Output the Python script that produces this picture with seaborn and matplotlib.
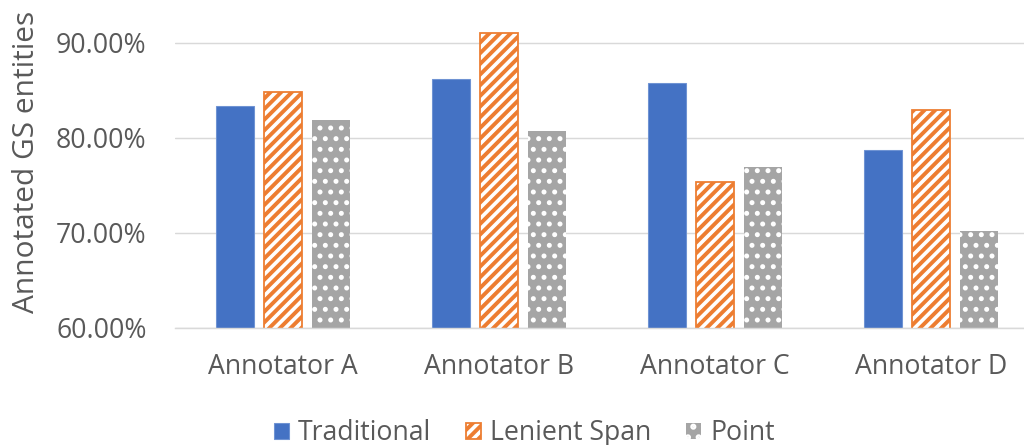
import matplotlib
matplotlib.use("Agg")
import matplotlib.pyplot as plt
import seaborn as sns
import pandas as pd
from matplotlib.ticker import PercentFormatter, FixedLocator
from matplotlib.patches import Patch

categories = ["Annotator A", "Annotator B", "Annotator C", "Annotator D"]
methods = ["Traditional", "Lenient Span", "Point"]
traditional = [0.833, 0.862, 0.858, 0.787]
lenient_span = [0.848, 0.910, 0.754, 0.829]
point = [0.819, 0.807, 0.769, 0.702]
y_ticks = [0.60, 0.70, 0.80, 0.90]

colors = {"Traditional": "#4472C4", "Lenient Span": "#ED7D31", "Point": "#A5A5A5"}
text_color = "#595959"
grid_color = "#D9D9D9"

rows = []
for m, vals in zip(methods, [traditional, lenient_span, point]):
    for c, v in zip(categories, vals):
        rows.append({"Annotator": c, "Method": m, "Value": v})
df = pd.DataFrame(rows)

sns.set_theme(style="white")
plt.rcParams["font.family"] = ["Open Sans", "DejaVu Sans"]
plt.rcParams["hatch.linewidth"] = 2.2

DPI = 128
fig = plt.figure(figsize=(1024 / DPI, 445 / DPI), dpi=DPI)
ax = fig.add_axes([175 / 1024, 117 / 445, 849 / 1024, 308 / 445])

sns.barplot(data=df, x="Annotator", y="Value", hue="Method", order=categories,
            hue_order=methods, palette=colors, width=0.667, gap=0.21,
            saturation=1, ax=ax, errorbar=None, legend=False)


def style(p, m):
    if m == "Traditional":
        p.set_facecolor(colors[m])
        p.set_edgecolor("#6F93D3")
        p.set_linewidth(0.6)
    elif m == "Lenient Span":
        p.set_facecolor("white")
        p.set_edgecolor(colors[m])
        p.set_hatch("////")
        p.set_linewidth(1.0)
        if hasattr(p, "set_hatch_linewidth"):
            p.set_hatch_linewidth(2.2)
    else:
        p.set_facecolor(colors[m])
        p.set_edgecolor("white")
        p.set_hatch("..")
        p.set_linewidth(0)
        if hasattr(p, "set_hatch_linewidth"):
            p.set_hatch_linewidth(1.6)


for cont, m in zip(ax.containers, methods):
    for bar in cont:
        style(bar, m)

ax.set_ylim(0.60, 0.9239)
ax.set_xlim(-0.5, 3.43)
ax.yaxis.set_major_locator(FixedLocator(y_ticks))
ax.yaxis.set_major_formatter(PercentFormatter(xmax=1, decimals=2))
ax.grid(axis="y", color=grid_color, linewidth=0.8)
ax.set_axisbelow(True)
for s in ["top", "right", "left"]:
    ax.spines[s].set_visible(False)
ax.spines["bottom"].set_color(grid_color)
ax.spines["bottom"].set_linewidth(0.8)
ax.tick_params(axis="both", length=0, labelsize=15, colors=text_color)
ax.tick_params(axis="y", pad=16)
ax.tick_params(axis="x", pad=14)
ax.set_xlabel("")
ax.set_ylabel("Annotated GS entities", fontsize=16.8, color=text_color)
ax.yaxis.set_label_coords(-0.158, 0.54)

handles = []
for m in methods:
    h = Patch(label=m)
    style(h, m)
    handles.append(h)
leg = fig.legend(handles=handles, loc="center", bbox_to_anchor=(0.512, 0.027),
                 ncol=3, frameon=False, fontsize=15, handlelength=0.55,
                 handleheight=0.55, handletextpad=0.35, columnspacing=1.3,
                 labelcolor=text_color)

fig.savefig("out.png", dpi=DPI)
